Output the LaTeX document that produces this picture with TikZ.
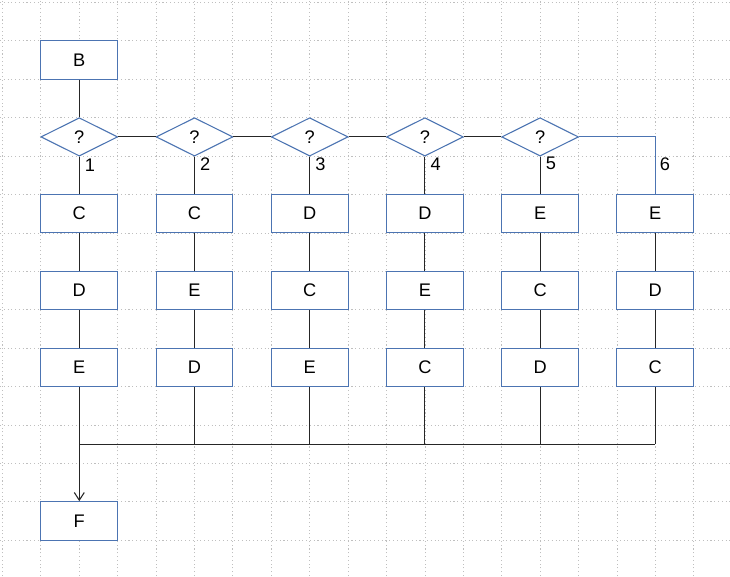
\documentclass[tikz,border=0pt]{standalone}
\usepackage{fontspec}
\setmainfont{Liberation Sans}
\usetikzlibrary{shapes.geometric,arrows.meta}
\definecolor{boxblue}{RGB}{76,116,178}
\tikzset{
  box/.style={draw=boxblue,line width=0.8pt,fill=white,minimum width=2cm,minimum height=1cm,inner sep=0pt,font=\fontsize{13.5}{16}\selectfont},
  ask/.style={diamond,aspect=2,draw=boxblue,line width=0.8pt,fill=white,minimum width=2cm,minimum height=1cm,inner sep=0pt,font=\fontsize{13.5}{16}\selectfont},
  wire/.style={black!85,line width=0.8pt},
  num/.style={font=\fontsize{13.5}{16}\selectfont}
}

\begin{document}
\begin{tikzpicture}
    \useasboundingbox (-0.065,0.065) rectangle (18.945,-14.935);
    \draw [ gray!50,line width=0.6pt,dash pattern=on 0.8pt off 2pt ] (-0.065,0.065) grid (18.945,-14.935);

    % start and the questions
    \node [ box ] (b) at (2,-1.5) {B};
    \node [ ask ] (q1) at (2,-3.5) {?};
    \node [ ask ] (q2) at (5,-3.5) {?};
    \node [ ask ] (q3) at (8,-3.5) {?};
    \node [ ask ] (q4) at (11,-3.5) {?};
    \node [ ask ] (q5) at (14,-3.5) {?};

    % the six orders
    \node [ box ] (c1a) at (2,-5.5) {C}; \node [ box ] (c1b) at (2,-7.5) {D}; \node [ box ] (c1c) at (2,-9.5) {E};
    \node [ box ] (c2a) at (5,-5.5) {C}; \node [ box ] (c2b) at (5,-7.5) {E}; \node [ box ] (c2c) at (5,-9.5) {D};
    \node [ box ] (c3a) at (8,-5.5) {D}; \node [ box ] (c3b) at (8,-7.5) {C}; \node [ box ] (c3c) at (8,-9.5) {E};
    \node [ box ] (c4a) at (11,-5.5) {D}; \node [ box ] (c4b) at (11,-7.5) {E}; \node [ box ] (c4c) at (11,-9.5) {C};
    \node [ box ] (c5a) at (14,-5.5) {E}; \node [ box ] (c5b) at (14,-7.5) {C}; \node [ box ] (c5c) at (14,-9.5) {D};
    \node [ box ] (c6a) at (17,-5.5) {E}; \node [ box ] (c6b) at (17,-7.5) {D}; \node [ box ] (c6c) at (17,-9.5) {C};

    \node [ box ] (f) at (2,-13.5) {F};

    \coordinate (turn) at (17,-3.5);
    \coordinate (busl) at (2,-11.5);
    \coordinate (busr) at (17,-11.5);

    % connectors
    \draw [ wire ] (b) -- (q1);
    \draw [ wire ] (q1) -- (q2); \draw [ wire ] (q2) -- (q3);
    \draw [ wire ] (q3) -- (q4); \draw [ wire ] (q4) -- (q5);
    \draw [ boxblue,line width=0.8pt ] (q5.east) -- (turn) -- (c6a.north);
    \draw [ wire ] (q1) -- (c1a); \draw [ wire ] (q2) -- (c2a); \draw [ wire ] (q3) -- (c3a);
    \draw [ wire ] (q4) -- (c4a); \draw [ wire ] (q5) -- (c5a);
    \foreach \c in {1,...,6} {
        \draw [ wire ] (c\c a) -- (c\c b);
        \draw [ wire ] (c\c b) -- (c\c c);
    }
    \foreach \c in {2,...,6} \draw [ wire ] (c\c c.south) -- (c\c c.south |- busl);
    \draw [ wire ] (busl) -- (busr);
    \draw [ wire,-{Straight Barb[length=2mm,width=2.6mm]} ] (c1c) -- (f);

    % branch numbers
    \node [ num ] (n1) at (2.28,-4.23) {1};
    \node [ num ] (n2) at (5.28,-4.2) {2};
    \node [ num ] (n3) at (8.28,-4.2) {3};
    \node [ num ] (n4) at (11.28,-4.2) {4};
    \node [ num ] (n5) at (14.28,-4.2) {5};
    \node [ num ] (n6) at (17.25,-4.2) {6};
\end{tikzpicture}
\end{document}
